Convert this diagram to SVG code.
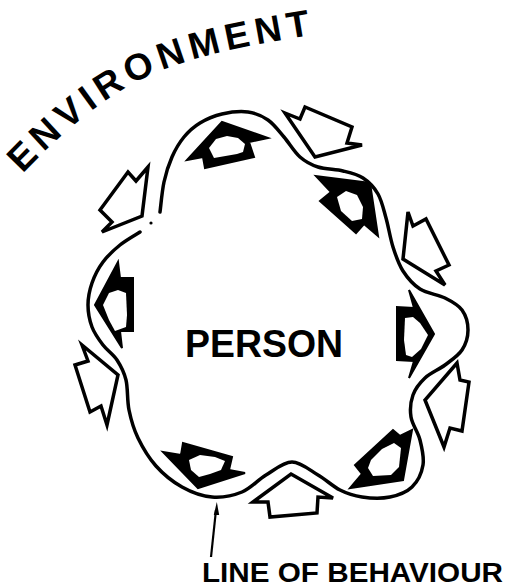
<svg xmlns="http://www.w3.org/2000/svg" width="509" height="588" viewBox="0 0 509 588">
<style>
.out{fill:#fff;stroke:#000;stroke-width:3.5;stroke-linejoin:miter}
.in{fill:#000;stroke:#000;stroke-width:2;stroke-linejoin:miter}
.hole{fill:#fff}
.line{fill:none;stroke:#000;stroke-width:3.5;stroke-linecap:round}
.t{font-family:"Liberation Sans",Arial,sans-serif;font-weight:bold;fill:#000}
</style>
<defs>
<path id="arc" d="M 5,193 C 45,148 90,106 140,80 C 190,55 250,45 330,32"/>
</defs>
<rect width="509" height="588" fill="#fff"/>

<g id="environment">
<text class="t" font-size="37" letter-spacing="5.5"><textPath href="#arc" startOffset="26">ENVIRONMENT</textPath></text>
</g>

<g id="line-of-behaviour">
<path class="line" d="M140,232 C136.7,234.2 126.2,240 120,245 C113.8,250 107.7,255.7 103,262 C98.3,268.3 94.5,275.8 92,283 C89.5,290.2 88,297.7 88,305 C88,312.3 89.5,320.3 92,327 C94.5,333.7 98.8,339.5 103,345 C107.2,350.5 113.2,354.2 117,360 C120.8,365.8 124,371.7 126,380 C128,388.3 127,400.3 129,410 C131,419.7 133.5,428.7 138,438 C142.5,447.3 148.7,457.8 156,466 C163.3,474.2 172.7,481.8 182,487 C191.3,492.2 202,496.2 212,497 C222,497.8 233,495.7 242,492 C251,488.3 257.7,480 266,475 C274.3,470 283.3,462 292,462 C300.7,462 310,470.3 318,475 C326,479.7 332.7,486.3 340,490 C347.3,493.7 353.7,495.8 362,497 C370.3,498.2 381.7,498.7 390,497 C398.3,495.3 406.5,492.3 412,487 C417.5,481.7 421.7,472.8 423,465 C424.3,457.2 422,448 420,440 C418,432 412.2,424.5 411,417 C409.8,409.5 410.7,401.5 413,395 C415.3,388.5 419.7,383 425,378 C430.3,373 438.8,369.7 445,365 C451.2,360.3 458.2,355.8 462,350 C465.8,344.2 468,336.7 468,330 C468,323.3 465.8,315.3 462,310 C458.2,304.7 452,301.5 445,298 C438,294.5 427,293.5 420,289 C413,284.5 407.5,278 403,271 C398.5,264 395.8,255.8 393,247 C390.2,238.2 388.5,226.8 386,218 C383.5,209.2 381.8,200.7 378,194 C374.2,187.3 368.8,181.8 363,178 C357.2,174.2 350.5,172.8 343,171 C335.5,169.2 325.2,169.3 318,167 C310.8,164.7 305.7,162 300,157 C294.3,152 289.3,143.2 284,137 C278.7,130.8 274,124.2 268,120 C262,115.8 255.7,113 248,112 C240.3,111 230,112.2 222,114 C214,115.8 206.3,119.2 200,123 C193.7,126.8 188.7,131.3 184,137 C179.3,142.7 175.3,149.5 172,157 C168.7,164.5 166,172.8 164,182 C162,191.2 160.7,207 160,212"/>
<circle cx="151" cy="223" r="1.6" fill="#000"/>
</g>

<g id="env-arrow-1"><polygon class="out" points="285,113 300,119 305,107 352,127 347,143 362,145 315,157"/></g>
<g id="env-arrow-2"><polygon class="out" points="408,212 413,226 426,219 449,265 436,271 445,285 403,259"/></g>
<g id="env-arrow-3"><polygon class="out" points="457,363 460,380 469,382 462,431 450,428 444,447 425,400"/></g>
<g id="env-arrow-4"><polygon class="out" points="291,474 333,498 318,497 317,513 270,517 268,502 253,502"/></g>
<g id="env-arrow-5"><polygon class="out" points="82,345 88,361 75,365 90,412 101,406 107,425 118,375"/></g>
<g id="env-arrow-6"><polygon class="out" points="148,167 136,181 128,172 100,210 112,222 102,232 142,216"/></g>

<g id="person-arrow-1"><polygon class="in" points="187,160 203,157 205,168 254,157 249,142 268,138 222,122"/><polygon class="hole" points="209,148 216,139 227,136 238,138 245,144 243,152 237,154 214,158"/></g>
<g id="person-arrow-2"><polygon class="in" points="370,183 378,236 364,224 356,233 320,201 331,192 316,176"/><polygon class="hole" points="337,197 346,191 357,195 363,207 362,219 352,221 341,211"/></g>
<g id="person-arrow-3"><polygon class="in" points="409,290 434,334 409,378 414,361 397,360 397,307 414,308"/><polygon class="hole" points="405,318 413,317 420,323 428,335 421,349 412,357 406,355 404,340"/></g>
<g id="person-arrow-4"><polygon class="in" points="412,430 403,480 350,488 362,474 355,465 393,430 400,436"/><polygon class="hole" points="371,460 382,449 394,443 401,448 399,467 391,475 373,476 368,468"/></g>
<g id="person-arrow-5"><polygon class="in" points="163,452 181,455 183,443 232,457 229,470 245,473 198,488"/><polygon class="hole" points="189,460 200,455 215,457 225,461 221,470 210,474 199,477 191,470"/></g>
<g id="person-arrow-6"><polygon class="in" points="118,262 95,305 122,348 120,331 133,331 133,278 120,278"/><polygon class="hole" points="103,305 109,293 118,290 126,293 127,315 126,327 115,331 109,320"/></g>

<g id="person">
<text class="t" x="185" y="357" font-size="39" textLength="158" lengthAdjust="spacingAndGlyphs">PERSON</text>
</g>

<g id="connectors">
<line x1="216" y1="510" x2="211" y2="557" stroke="#000" stroke-width="2.2"/>
<polygon points="216.8,502 219.2,515 213.8,515" fill="#000"/>
</g>

<g id="behaviour-label">
<text class="t" x="202" y="582" font-size="27" textLength="301" lengthAdjust="spacingAndGlyphs">LINE OF BEHAVIOUR</text>
</g>
</svg>
